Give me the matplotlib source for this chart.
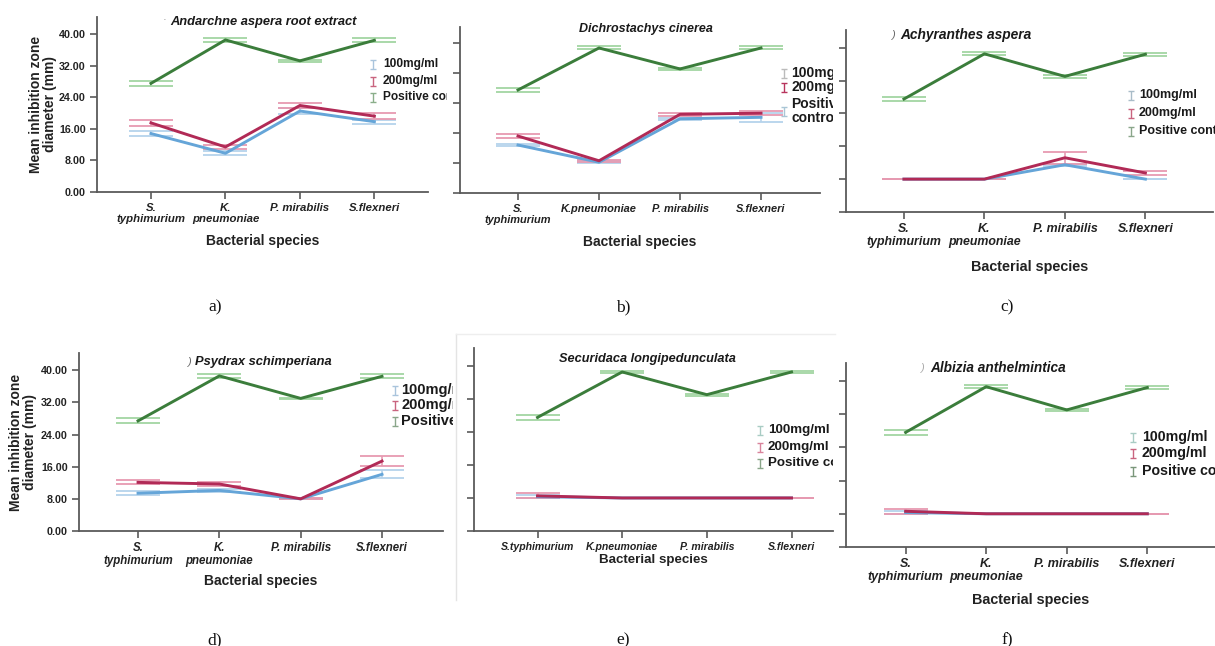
import matplotlib
matplotlib.use('Agg')
import matplotlib.pyplot as plt
from matplotlib.transforms import Bbox, TransformedBbox

plt.rcParams['font.family'] = ['Liberation Sans', 'DejaVu Sans']

species_two = ['S.\ntyphimurium', 'K.\npneumoniae', 'P. mirabilis', 'S.flexneri']
species_b = ['S.\ntyphimurium', 'K.pneumoniae', 'P. mirabilis', 'S.flexneri']
species_one = ['S.typhimurium', 'K.pneumoniae', 'P. mirabilis', 'S.flexneri']
yticks = [0, 8, 16, 24, 32, 40]

# a) Andarchne aspera root extract
pos_a = [27.5, 38.5, 33.2, 38.4]
pos_a_err = [0.6, 0.5, 0.3, 0.5]
mg200_a = [17.5, 11.4, 21.9, 19.2]
mg200_a_err = [0.8, 0.4, 0.6, 0.7]
mg100_a = [14.8, 9.8, 20.5, 17.8]
mg100_a_err = [0.6, 0.5, 0.8, 0.5]

# b) Dichrostachys cinerea
pos_b = [27.5, 38.7, 33.1, 38.7]
pos_b_err = [0.5, 0.4, 0.2, 0.4]
mg200_b = [15.2, 8.6, 21.0, 21.3]
mg200_b_err = [0.6, 0.3, 0.4, 0.6]
mg100_b = [12.8, 8.2, 19.8, 20.2]
mg100_b_err = [0.3, 0.3, 0.3, 1.2]

# c) Achyranthes aspera
pos_c = [27.5, 38.5, 33.0, 38.4]
pos_c_err = [0.6, 0.4, 0.3, 0.4]
mg200_c = [8.0, 8.0, 13.2, 9.5]
mg200_c_err = [0, 0, 1.5, 0.5]
mg100_c = [8.0, 8.0, 11.5, 8.0]
mg100_c_err = [0, 0, 0.3, 0]

# d) Psydrax schimperiana
pos_d = [27.4, 38.6, 33.0, 38.5]
pos_d_err = [0.6, 0.5, 0.2, 0.5]
mg200_d = [12.1, 11.7, 8.0, 17.4]
mg200_d_err = [0.5, 0.5, 0.1, 1.2]
mg100_d = [9.4, 10.1, 8.0, 14.1]
mg100_d_err = [0.5, 0.4, 0.1, 1.0]

# e) Securidaca longipedunculata
pos_e = [27.5, 38.5, 33.0, 38.5]
pos_e_err = [0.6, 0.3, 0.2, 0.3]
mg200_e = [8.5, 8.0, 8.0, 8.0]
mg200_e_err = [0.6, 0, 0, 0]
mg100_e = [8.3, 8.0, 8.0, 8.0]
mg100_e_err = [0.3, 0, 0, 0]

# f) Albizia anthelmintica
pos_f = [27.6, 38.6, 33.0, 38.4]
pos_f_err = [0.6, 0.4, 0.3, 0.4]
mg200_f = [8.6, 8.0, 8.0, 8.0]
mg200_f_err = [0.6, 0, 0, 0]
mg100_f = [8.3, 8.0, 8.0, 8.0]
mg100_f_err = [0.3, 0, 0, 0]

W, H = 1215, 646
fig = plt.figure(figsize=(W / 100, H / 100), dpi=100)

GREEN, GREEN_L = '#3b7d3b', '#a3d6a3'
RED, RED_L = '#b12a56', '#e79ab1'
BLUE, BLUE_L = '#65a5d8', '#b5d3ec'
AX = '#5a5a5a'

panels = [
    # box (left, top, right, bottom) in px, xlim, labels, series, title info, font sizes
    dict(box=(97, 17, 428, 192), xlim=(-0.725, 3.72), cats=species_two,
         data=(mg100_a, mg100_a_err, mg200_a, mg200_a_err, pos_a, pos_a_err),
         title='Andarchne aspera root extract', tx=263, ty=22, ts=9.3,
         ylab=True, cs=8.2, xl_off=49, xs=10),
    dict(box=(460, 27, 820, 193), xlim=(-0.716, 3.728), cats=species_b,
         data=(mg100_b, mg100_b_err, mg200_b, mg200_b_err, pos_b, pos_b_err),
         title='Dichrostachys cinerea', tx=646, ty=29, ts=9.0,
         ylab=False, cs=7.9, xl_off=49, xs=10),
    dict(box=(846, 30, 1213, 212), xlim=(-0.72, 3.84), cats=species_two,
         data=(mg100_c, mg100_c_err, mg200_c, mg200_c_err, pos_c, pos_c_err),
         title='Achyranthes aspera', tx=966, ty=35, ts=9.9,
         ylab=False, cs=8.9, xl_off=55, xs=10.4),
    dict(box=(79, 353, 443, 531), xlim=(-0.726, 3.75), cats=species_two,
         data=(mg100_d, mg100_d_err, mg200_d, mg200_d_err, pos_d, pos_d_err),
         title='Psydrax schimperiana', tx=263, ty=362, ts=9.3,
         ylab=True, cs=8.3, xl_off=50, xs=10),
    dict(box=(474, 348, 833, 531), xlim=(-0.75, 3.49), cats=species_one,
         data=(mg100_e, mg100_e_err, mg200_e, mg200_e_err, pos_e, pos_e_err),
         title='Securidaca longipedunculata', tx=647, ty=359, ts=9.2,
         ylab=False, cs=7.6, xl_off=29, xs=9.6),
    dict(box=(846, 363, 1215, 547), xlim=(-0.74, 3.84), cats=species_two,
         data=(mg100_f, mg100_f_err, mg200_f, mg200_f_err, pos_f, pos_f_err),
         title='Albizia anthelmintica', tx=998, ty=368, ts=9.8,
         ylab=False, cs=9.0, xl_off=53, xs=10.4),
]

for p in panels:
    l, t, r, b = p['box']
    ax = fig.add_axes([l / W, 1 - b / H, (r - l) / W, (b - t) / H])
    x = range(len(p['cats']))
    m100, e100, m200, e200, pos, epos = p['data']
    for vals, err, dark, light in [(pos, epos, GREEN, GREEN_L),
                                   (m100, e100, BLUE, BLUE_L),
                                   (m200, e200, RED, RED_L)]:
        ax.errorbar(x, vals, yerr=err, fmt='none', ecolor=light,
                    elinewidth=1.2, capsize=16, capthick=1.3, zorder=2)
        ax.plot(x, vals, color=dark, lw=2.1, zorder=3)
    ax.set_xlim(*p['xlim'])
    ax.set_ylim(0, 44.3)
    ax.set_xticks(list(x))
    ax.set_xticklabels(p['cats'], fontsize=p['cs'], fontweight='bold',
                       style='italic', color='#222', linespacing=1.05)
    ax.set_yticks(yticks)
    if p['ylab']:
        ax.set_yticklabels([f'{v:.2f}' for v in yticks], fontsize=7.7,
                           fontweight='bold', color='#222')
        ax.set_ylabel('Mean inhibition zone\ndiameter (mm)', fontsize=10,
                      fontweight='bold', linespacing=1.0, color='#222')
        ax.yaxis.set_label_coords(-(l - 43 if l > 90 else l - 23) / (r - l), 0.5)
        ax.yaxis.label.set_va('center')
    else:
        ax.tick_params(axis='y', labelleft=False)
    ax.set_xlabel('Bacterial species', fontsize=p['xs'], fontweight='bold',
                  color='#222')
    ax.xaxis.set_label_coords(0.5, -p['xl_off'] / (b - t))
    ax.xaxis.label.set_va('center')
    ax.tick_params(direction='out', length=5, width=1.2, color=AX, pad=3)
    for s in ['top', 'right']:
        ax.spines[s].set_visible(False)
    for s in ['left', 'bottom']:
        ax.spines[s].set_color(AX)
        ax.spines[s].set_linewidth(1.3)
    ax.set_facecolor('none')

# overlay in pixel units for titles, legends and captions
ov = fig.add_axes([0, 0, 1, 1])
ov.set_xlim(0, W)
ov.set_ylim(H, 0)
ov.axis('off')


def clip(x0, y0, x1, y1):
    return TransformedBbox(Bbox.from_extents(x0 / W, 1 - y1 / H, x1 / W, 1 - y0 / H),
                           fig.transFigure)


for p in panels:
    ov.text(p['tx'], p['ty'], p['title'], fontsize=p['ts'], fontweight='bold',
            style='italic', ha='center', va='center', color='#1a1a1a')

# faint fragments left over from cropping
ov.text(165, 20, '\u00b7', fontsize=8, color='#888', ha='center', va='center')
ov.text(893, 35, ')', fontsize=8, color='#666', style='italic', ha='center', va='center')
ov.text(189, 362, ')', fontsize=8, color='#666', style='italic', ha='center', va='center')
ov.text(922, 368, ')', fontsize=8, color='#aaa', style='italic', ha='center', va='center')
ov.plot([456, 456], [334, 600], color='#e4e4e4', lw=1)
ov.plot([456, 835], [334, 334], color='#eeeeee', lw=1)

legends = [
    # glyph x, text x, ys, font size, clip right, glyph colours, labels
    (373, 383, [64, 81, 97], 8.6, 447, ['#a9c4dc', '#c9647f', '#8aae8a'],
     ['100mg/ml', '200mg/ml', 'Positive control'], (0, 290)),
    (784, 791, [73, 87, 111], 10.0, 833, ['#bbbbbb', '#b8345d', '#a9c6d6'],
     ['100mg/ml', '200mg/ml', 'Positive\ncontrol'], (0, 290)),
    (1131, 1139, [95, 113, 131], 9.0, 1215, ['#a9bcc8', '#c9647f', '#8aa68a'],
     ['100mg/ml', '200mg/ml', 'Positive control'], (0, 290)),
    (395, 401, [390, 405, 421], 10.5, 453, ['#a9c4dc', '#c9647f', '#8aa68a'],
     ['100mg/ml', '200mg/ml', 'Positive control'], (330, 646)),
    (760, 768, [430, 447, 463], 9.6, 833, ['#a9ccc4', '#d9849c', '#8aa68a'],
     ['100mg/ml', '200mg/ml', 'Positive control'], (330, 646)),
    (1133, 1142, [437, 453, 471], 10.2, 1215, ['#a9ccc4', '#c9647f', '#7a967a'],
     ['100mg/ml', '200mg/ml', 'Positive control'], (330, 646)),
]
for gx, tx, ys, fs, cr, gcols, labs, (cy0, cy1) in legends:
    for y, gc, lab in zip(ys, gcols, labs):
        ov.errorbar([gx], [y], yerr=[4.5], fmt='none', ecolor=gc,
                    elinewidth=1, capsize=2.5, capthick=1)
        txt = ov.text(tx, y, lab, fontsize=fs, fontweight='bold', ha='left',
                      va='center', color='#1a1a1a', linespacing=1.0, clip_on=True)
        txt.set_clip_path(None)
        txt.set_clip_box(clip(0, cy0, cr, cy1))

captions = ['a)', 'b)', 'c)', 'd)', 'e)', 'f)']
cap_x = [215, 623, 1007, 215, 623, 1007]
cap_y = [307, 307, 307, 640, 640, 640]
for c, cx, cy in zip(captions, cap_x, cap_y):
    ov.text(cx, cy, c, fontsize=12.5, family='Liberation Serif',
            ha='center', va='center', color='#111')

fig.savefig('out.png', dpi=100)
